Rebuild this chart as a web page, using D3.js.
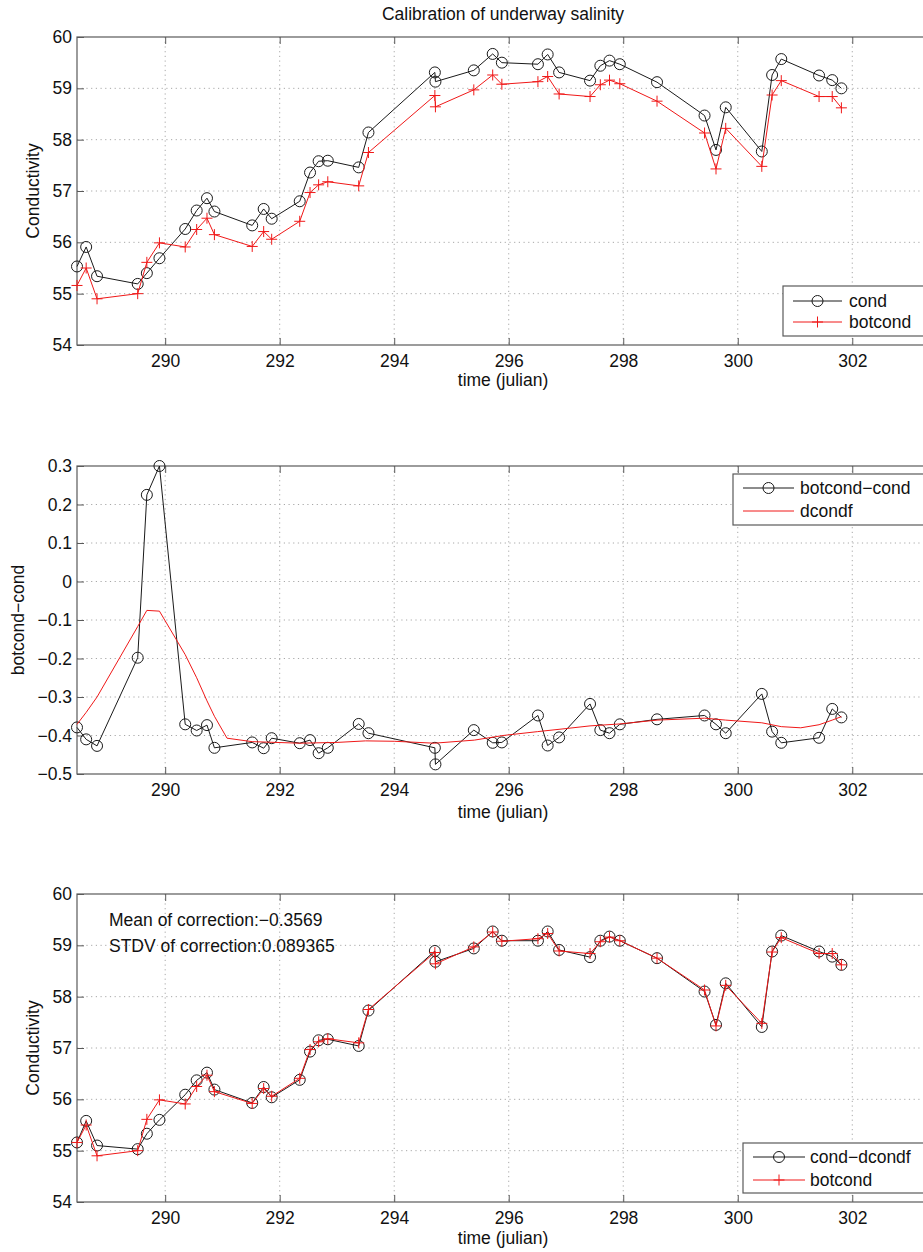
<!DOCTYPE html>
<html>
<head>
<meta charset="utf-8">
<script src="https://cdn.jsdelivr.net/npm/d3@7"></script>
<style>
  body { margin: 0; background: #fff; }
  svg { display: block; font-family: "Liberation Sans", Arial, Helvetica, sans-serif; }
</style>
</head>
<body>
<svg id="chart" width="923" height="1252"></svg>
<script>
// Sample times (julian day)
const time = [288.46, 288.62, 288.81, 289.52, 289.68, 289.90, 290.35, 290.55, 290.73, 290.86,
              291.52, 291.72, 291.86, 292.35, 292.53, 292.68, 292.84, 293.38, 293.55, 294.71,
              294.72, 295.39, 295.72, 295.88, 296.51, 296.68, 296.88, 297.42, 297.60, 297.76,
              297.94, 298.59, 299.42, 299.62, 299.79, 300.42, 300.60, 300.76, 301.42, 301.65, 301.81];

// Underway conductivity
const cond = [55.53, 55.91, 55.34, 55.19, 55.40, 55.69, 56.26, 56.62, 56.86, 56.60,
              56.33, 56.65, 56.46, 56.80, 57.36, 57.58, 57.59, 57.46, 58.14, 59.31,
              59.13, 59.35, 59.67, 59.50, 59.47, 59.66, 59.31, 59.15, 59.44, 59.54,
              59.47, 59.12, 58.47, 57.80, 58.63, 57.77, 59.26, 59.57, 59.25, 59.16, 59.00];

// Bottle conductivity
const botcond = [55.16, 55.50, 54.90, 55.00, 55.61, 55.99, 55.91, 56.25, 56.47, 56.15,
                 55.92, 56.21, 56.06, 56.41, 56.97, 57.12, 57.18, 57.10, 57.75, 58.86,
                 58.64, 58.97, 59.26, 59.08, 59.13, 59.23, 58.89, 58.84, 59.07, 59.16,
                 59.09, 58.75, 58.13, 57.43, 58.22, 57.48, 58.87, 59.15, 58.84, 58.84, 58.62];

// Difference botcond - cond
const diffVals = [-0.379, -0.410, -0.427, -0.198, 0.225, 0.300, -0.371, -0.387, -0.373, -0.432,
                  -0.418, -0.433, -0.407, -0.420, -0.412, -0.446, -0.432, -0.370, -0.394, -0.432,
                  -0.475, -0.386, -0.419, -0.418, -0.348, -0.426, -0.405, -0.318, -0.386, -0.394,
                  -0.371, -0.358, -0.348, -0.371, -0.394, -0.292, -0.390, -0.419, -0.406, -0.331, -0.353];

// Smoothed correction dcondf
const dcondfTime = [288.46, 288.62, 288.81, 289.52, 289.68, 289.90, 290.35, 290.55, 290.73, 290.86,
                    291.08, 291.52, 292.35, 293.00, 293.50, 294.00, 294.70, 295.40, 295.90, 296.50,
                    297.00, 297.42, 297.94, 298.59, 299.42, 299.79, 300.42, 300.76, 301.10, 301.42,
                    301.65, 301.81];
const dcondfVals = [-0.371, -0.340, -0.300, -0.117, -0.075, -0.077, -0.190, -0.250, -0.310, -0.350,
                    -0.407, -0.416, -0.420, -0.418, -0.414, -0.415, -0.420, -0.412, -0.400, -0.390,
                    -0.382, -0.375, -0.370, -0.360, -0.355, -0.360, -0.367, -0.377, -0.380, -0.372,
                    -0.360, -0.351];

// Corrected conductivity
const condCorrected = [55.16, 55.58, 55.10, 55.03, 55.33, 55.60, 56.09, 56.37, 56.52, 56.19,
                       55.93, 56.24, 56.04, 56.38, 56.93, 57.15, 57.17, 57.04, 57.73, 58.89,
                       58.68, 58.94, 59.27, 59.09, 59.09, 59.27, 58.91, 58.77, 59.09, 59.17,
                       59.09, 58.75, 58.10, 57.45, 58.26, 57.41, 58.88, 59.19, 58.88, 58.78, 58.62];

const xTicks = [290, 292, 294, 296, 298, 300, 302];
const condTicks = [54, 55, 56, 57, 58, 59, 60];
const diffTicks = [-0.5, -0.4, -0.3, -0.2, -0.1, 0, 0.1, 0.2, 0.3];

const titleText = "Calibration of underway salinity";
const xLabelText = "time (julian)";
const statLines = ["Mean of correction:\u22120.3569", "STDV of correction:0.089365"];

const svg = d3.select("#chart");
const FONT = 17.5;
const BLACK = "#1a1a1a";
const RED = "#f01818";
const AXIS = "#5a5a5a";
const GRID = "#a8a8a8";

const plotLeft = 77, plotRight = 929;
const x = d3.scaleLinear().domain([288.46, 303.34]).range([plotLeft, plotRight]);

const plusPath = "M-5.5,0H5.5M0,-5.5V5.5";

function drawMarkers(g, pts, marker, color) {
  if (marker === "o") {
    g.selectAll(null).data(pts).join("circle")
      .attr("cx", d => d.px).attr("cy", d => d.py).attr("r", 5.5)
      .attr("fill", "none").attr("stroke", color).attr("stroke-width", 1);
  } else if (marker === "+") {
    g.selectAll(null).data(pts).join("path")
      .attr("transform", d => `translate(${d.px},${d.py})`)
      .attr("d", plusPath).attr("fill", "none").attr("stroke", color).attr("stroke-width", 1);
  }
}

function drawPanel(p) {
  const top = p.top, bottom = p.top + p.height;
  const y = d3.scaleLinear().domain(p.yDomain).range([bottom, top]);
  const g = svg.append("g");

  // dotted grid
  const grid = g.append("g").attr("stroke", GRID).attr("stroke-width", 1)
    .attr("stroke-dasharray", "1.2,3.5");
  grid.selectAll(null).data(xTicks).join("line")
    .attr("x1", d => x(d)).attr("x2", d => x(d)).attr("y1", top).attr("y2", bottom);
  grid.selectAll(null).data(p.yTicks.slice(1, -1)).join("line")
    .attr("x1", plotLeft).attr("x2", plotRight).attr("y1", d => y(d)).attr("y2", d => y(d));

  // axes
  const bx = g.append("g").attr("transform", `translate(0,${bottom})`)
    .call(d3.axisBottom(x).tickValues(xTicks).tickSize(-7).tickSizeOuter(0).tickPadding(10)
      .tickFormat(d3.format("d")));
  const tx = g.append("g").attr("transform", `translate(0,${top})`)
    .call(d3.axisTop(x).tickValues(xTicks).tickSize(-7).tickSizeOuter(0).tickFormat(""));
  const ly = g.append("g").attr("transform", `translate(${plotLeft},0)`)
    .call(d3.axisLeft(y).tickValues(p.yTicks).tickSize(-7).tickSizeOuter(0).tickPadding(5)
      .tickFormat(p.yFormat));
  [bx, tx, ly].forEach(a => {
    a.select(".domain").remove();
    a.selectAll(".tick line").attr("stroke", AXIS);
    a.selectAll("text").attr("font-size", FONT).attr("fill", "#111")
      .attr("font-family", "Liberation Sans, Arial, sans-serif");
  });

  // frame
  g.append("rect").attr("x", plotLeft).attr("y", top)
    .attr("width", plotRight - plotLeft).attr("height", p.height)
    .attr("fill", "none").attr("stroke", AXIS).attr("stroke-width", 1.2);

  // series
  p.series.forEach(s => {
    const pts = s.t.map((t, i) => ({ px: x(t), py: y(s.v[i]) }));
    g.append("path").datum(pts)
      .attr("d", d3.line().x(d => d.px).y(d => d.py))
      .attr("fill", "none").attr("stroke", s.color).attr("stroke-width", 1);
    if (s.marker) drawMarkers(g.append("g"), pts, s.marker, s.color);
  });

  // axis labels
  g.append("text").attr("x", (plotLeft + plotRight) / 2).attr("y", bottom + p.xlabelOffset)
    .attr("text-anchor", "middle").attr("font-size", FONT).attr("fill", "#111").text(xLabelText);
  g.append("text")
    .attr("transform", `translate(${p.ylabelX},${(top + bottom) / 2}) rotate(-90)`)
    .attr("text-anchor", "middle").attr("dy", "0.35em")
    .attr("font-size", FONT).attr("fill", "#111").text(p.ylabel);

  // legend
  const L = p.legend;
  const lg = g.append("g");
  lg.append("rect").attr("x", L.x).attr("y", L.y).attr("width", L.w).attr("height", L.h)
    .attr("fill", "#fff").attr("stroke", AXIS).attr("stroke-width", 1.2);
  L.items.forEach((it, i) => {
    const yy = L.y + L.first + i * L.step;
    lg.append("line").attr("x1", L.x + L.lineStart).attr("x2", L.x + L.lineEnd)
      .attr("y1", yy).attr("y2", yy).attr("stroke", it.color).attr("stroke-width", 1);
    if (it.marker) {
      drawMarkers(lg.append("g"), [{ px: L.x + (L.lineStart + L.lineEnd) / 2, py: yy }], it.marker, it.color);
    }
    lg.append("text").attr("x", L.x + L.textStart).attr("y", yy).attr("dy", "0.35em")
      .attr("font-size", FONT).attr("fill", "#111").text(it.label);
  });

  return { g, y };
}

// title
svg.append("text").attr("x", (plotLeft + plotRight) / 2).attr("y", 20)
  .attr("text-anchor", "middle").attr("font-size", FONT).attr("fill", "#111").text(titleText);

const fmtInt = d3.format("d");
const fmtDiff = d => d === 0 ? "0" : d3.format(".1f")(d);

// Panel 1: cond and botcond
drawPanel({
  top: 37, height: 308, yDomain: [54, 60], yTicks: condTicks, yFormat: fmtInt,
  ylabel: "Conductivity", ylabelX: 33, xlabelOffset: 41,
  series: [
    { t: time, v: cond, color: BLACK, marker: "o" },
    { t: time, v: botcond, color: RED, marker: "+" }
  ],
  legend: { x: 783, y: 286, w: 150, h: 50, first: 15, step: 21, lineStart: 10, lineEnd: 59, textStart: 66,
    items: [ { label: "cond", color: BLACK, marker: "o" }, { label: "botcond", color: RED, marker: "+" } ] }
});

// Panel 2: botcond - cond and smoothed correction
drawPanel({
  top: 466, height: 308, yDomain: [-0.5, 0.3], yTicks: diffTicks, yFormat: fmtDiff,
  ylabel: "botcond\u2212cond", ylabelX: 18, xlabelOffset: 44,
  series: [
    { t: time, v: diffVals, color: BLACK, marker: "o" },
    { t: dcondfTime, v: dcondfVals, color: RED, marker: null }
  ],
  legend: { x: 733, y: 474, w: 200, h: 51, first: 14, step: 23, lineStart: 10, lineEnd: 61, textStart: 67,
    items: [ { label: "botcond\u2212cond", color: BLACK, marker: "o" }, { label: "dcondf", color: RED, marker: null } ] }
});

// Panel 3: corrected conductivity vs botcond
const p3 = drawPanel({
  top: 894, height: 308, yDomain: [54, 60], yTicks: condTicks, yFormat: fmtInt,
  ylabel: "Conductivity", ylabelX: 33, xlabelOffset: 42,
  series: [
    { t: time, v: condCorrected, color: BLACK, marker: "o" },
    { t: time, v: botcond, color: RED, marker: "+" }
  ],
  legend: { x: 743, y: 1143, w: 190, h: 50, first: 14, step: 23, lineStart: 10, lineEnd: 62, textStart: 67,
    items: [ { label: "cond\u2212dcondf", color: BLACK, marker: "o" }, { label: "botcond", color: RED, marker: "+" } ] }
});

// correction statistics
p3.g.selectAll(null).data(statLines).join("text")
  .attr("x", 109).attr("y", (d, i) => 926 + i * 26)
  .attr("font-size", FONT).attr("fill", "#111").text(d => d);
</script>
</body>
</html>
